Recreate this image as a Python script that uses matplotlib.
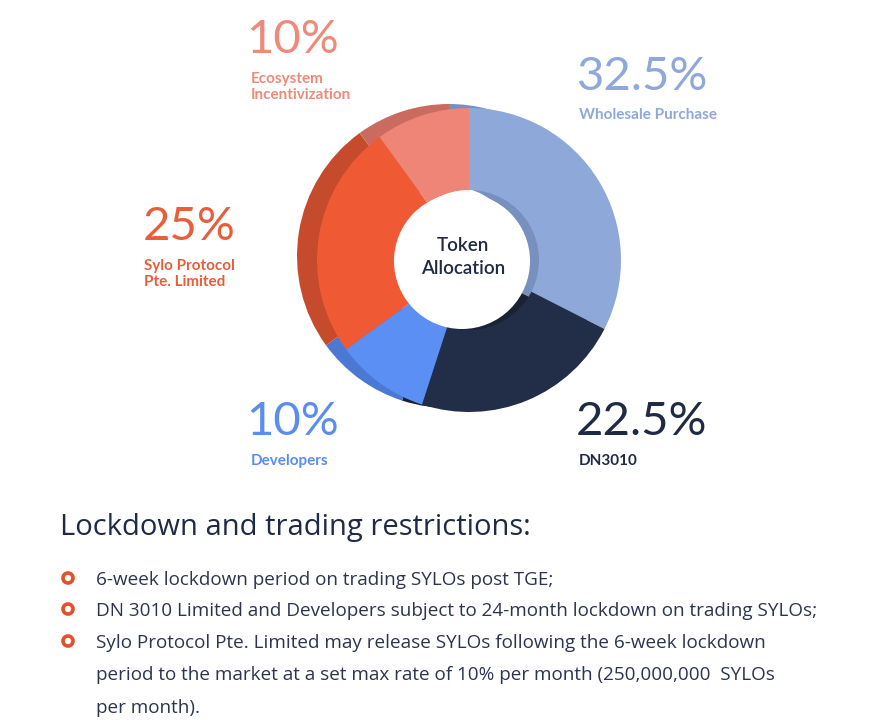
import matplotlib
matplotlib.use("Agg")
import matplotlib.pyplot as plt
from matplotlib.patches import Circle

W, H = 879, 725

# ---- data ----
categories = ["Wholesale Purchase", "DN3010", "Developers", "Sylo Protocol\nPte. Limited", "Ecosystem\nIncentivization"]
values = [32.5, 22.5, 10, 25, 10]
pct_labels = ["32.5%", "22.5%", "10%", "25%", "10%"]
front_colors = ["#8EA8DA", "#222D47", "#5B8FF3", "#EF5A35", "#EE8576"]
back_colors = ["#7890BE", "#1A2336", "#4A78D2", "#C64A2C", "#CB6B60"]
text_colors = ["#8EA8DA", "#1F2A44", "#5B8DEF", "#E85E3A", "#EE8A7A"]
bullet_lines = [
    ["6-week lockdown period on trading SYLOs post TGE;"],
    ["DN 3010 Limited and Developers subject to 24-month lockdown on trading SYLOs;"],
    ["Sylo Protocol Pte. Limited may release SYLOs following the 6-week lockdown",
     "period to the market at a set max rate of 10% per month (250,000,000  SYLOs",
     "per month)."],
]
heading = "Lockdown and trading restrictions:"
center_title = "Token\nAllocation"

FONT = "Lato"
BODY = "Open Sans"

fig = plt.figure(figsize=(W / 100, H / 100), dpi=100)
ax = fig.add_axes([0, 0, 1, 1])


def Y(y):
    return H - y


cx, cy = 469, 260
R, r = 152, 70

# back (3D side) layer
ax.pie(values, colors=back_colors, startangle=90, counterclock=False,
       radius=R, center=(cx - 20, Y(cy) + 4),
       wedgeprops=dict(width=R - r, edgecolor="none", linewidth=0))
# front face
ax.pie(values, colors=front_colors, startangle=90, counterclock=False,
       radius=R, center=(cx, Y(cy)),
       wedgeprops=dict(width=R - r, edgecolor="none", linewidth=0))
# white center
ax.add_patch(Circle((cx - 7, Y(cy + 1)), r - 2, facecolor="white", edgecolor="none", zorder=5))
ax.text(cx - 6, Y(257), center_title, ha="center", va="center", fontsize=13.5,
        color="#1F2A44", family=FONT, fontweight="semibold", linespacing=1.4, zorder=6)

# percentage labels: (pct x, pct y-center, label x, label y-top)
label_pos = {
    0: (577, 77, 579, 108),
    1: (576, 422, 579, 454),
    2: (246, 422, 251, 454),
    3: (143, 227, 144, 259),
    4: (246, 40, 251, 72),
}
for i, (px, py, lx, ly) in label_pos.items():
    ax.text(px, Y(py), pct_labels[i], ha="left", va="center", fontsize=34,
            color=text_colors[i], family=FONT, fontweight="normal")
    ax.text(lx, Y(ly), categories[i], ha="left", va="top", fontsize=11,
            color=text_colors[i], family=FONT, fontweight="bold", linespacing=1.15)

# heading
ax.text(60, Y(527), heading, ha="left", va="center", fontsize=21,
        color="#1F2A44", family=BODY, fontweight="normal")

# bullets
by = [578, 609, 641]
line_gap = 32.5
for yv, lines in zip(by, bullet_lines):
    ax.add_patch(Circle((68, Y(yv)), 5.0, facecolor="none", edgecolor="#E2512C", linewidth=2.6))
    for k, ln in enumerate(lines):
        ax.text(96, Y(yv + k * line_gap), ln, ha="left", va="center_baseline", fontsize=13.6,
                color="#2B3550", family=BODY, fontweight="normal")

ax.set_xlim(0, W)
ax.set_ylim(0, H)
ax.set_aspect("equal")
ax.axis("off")
fig.savefig("out.png", dpi=100, facecolor="white")
